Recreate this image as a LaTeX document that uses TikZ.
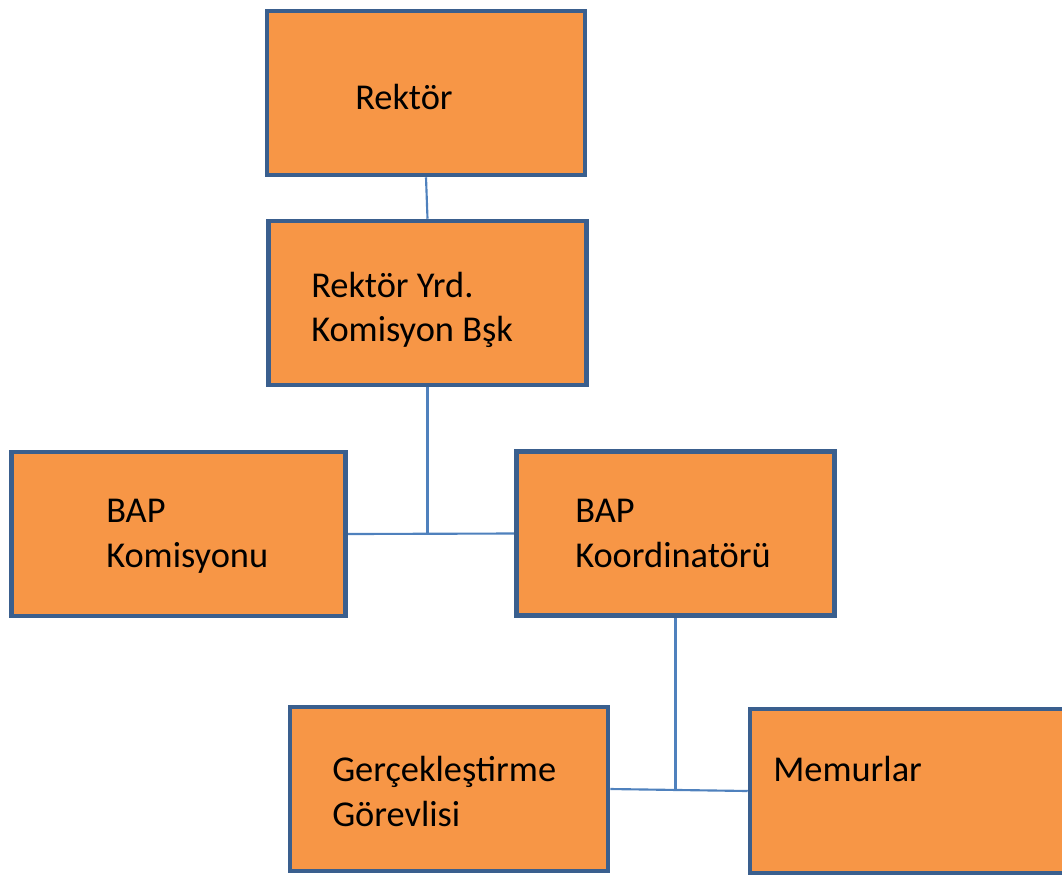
\documentclass[tikz,border=0pt]{standalone}
\usepackage{fontspec}
\setmainfont{Carlito}
\usetikzlibrary{backgrounds}
\definecolor{boxfill}{HTML}{F79646}
\definecolor{boxline}{HTML}{3A5F8E}
\definecolor{conn}{HTML}{4F81BD}
\begin{document}
\begin{tikzpicture}[x=0.75pt,y=-0.75pt,
  box/.style={draw=boxline,fill=boxfill,line width=3.4pt,minimum width=238.5pt,minimum height=123pt,inner sep=0pt},
  lbl/.style={anchor=base west,inner sep=0pt,font=\fontsize{27.3pt}{33pt}\selectfont},
  conline/.style={draw=conn,line width=1.6pt}]
\clip (0,0) rectangle (1062,875);
\useasboundingbox (0,0) rectangle (1062,875);
\node[box] (rek) at (426,93) {};
\node[box] (yrd) at (427.5,303) {};
\node[box,minimum width=250.5pt] (kom) at (178.5,534) {};
\node[box] (koord) at (675.5,533.5) {};
\node[box] (gerc) at (449,789) {};
\node[box] (mem) at (909,791) {};
\node[lbl] (t1) at (355,109) {Rektör};
\node[lbl] (t2) at (311,297) {Rektör Yrd.};
\node[lbl] (t3) at (311,341) {Komisyon Bşk};
\node[lbl] (t4) at (106,522) {BAP};
\node[lbl] (t5) at (106,567) {Komisyonu};
\node[lbl] (t6) at (575,522) {BAP};
\node[lbl] (t7) at (575,567) {Koordinatörü};
\node[lbl] (t8) at (332,781) {Gerçekleştirme};
\node[lbl] (t9) at (332,826) {Görevlisi};
\node[lbl] (t10) at (773,781) {Memurlar};
\begin{scope}[on background layer]
\draw[conline] (rek.south) -- (yrd.north);
\draw[conline] (yrd.south) -- (yrd.south |- kom.east);
\draw[conline] (kom.east) -- (koord.west);
\draw[conline] (koord.south) -- (koord.south |- gerc.east);
\draw[conline] (gerc.east) -- (mem.west);
\end{scope}
\end{tikzpicture}
\end{document}
